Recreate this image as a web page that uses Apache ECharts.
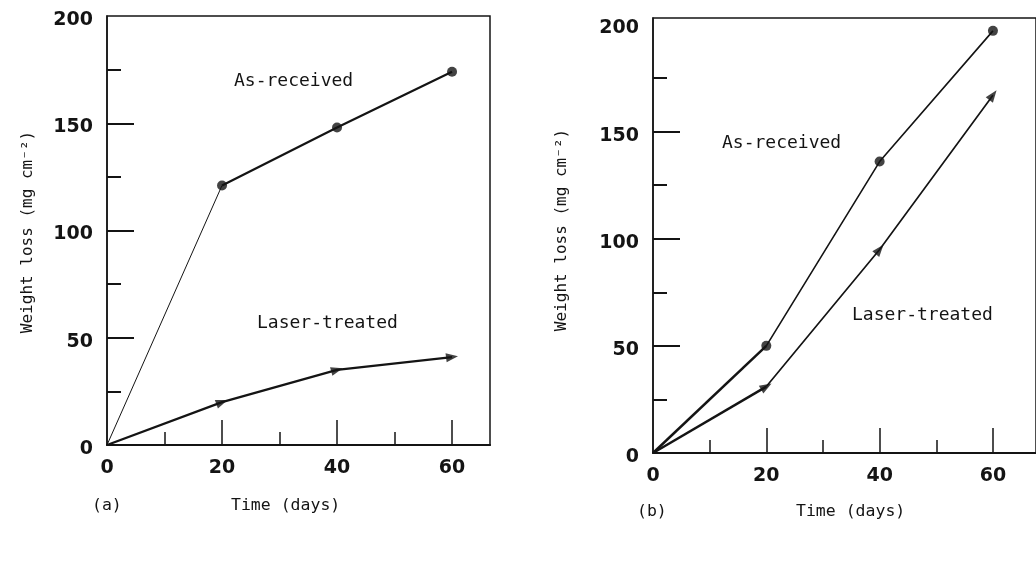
<!DOCTYPE html>
<html>
<head>
<meta charset="utf-8">
<script src="https://cdn.jsdelivr.net/npm/echarts@6/dist/echarts.min.js"></script>
<style>
html,body{margin:0;padding:0;background:#fff;}
#chart{width:1036px;height:562px;}
</style>
</head>
<body>
<div id="chart"></div>
<script>
// ---- data ----
const days = [0, 20, 40, 60];
const aAsReceived = [0, 121, 148, 174];
const aLaser = [0, 20, 35, 41];
const bAsReceived = [0, 50, 136, 197];
const bLaser = [0, 31, 95, 167];
const xLabelValues = [0, 20, 40, 60];
const xMajorTicks = [20, 40, 60];
const xMinorTicks = [10, 30, 50];
const yLabelValues = [0, 50, 100, 150, 200];
const yMajorTicks = [50, 100, 150];
const yMinorTicks = [25, 75, 125, 175];
const yName = 'Weight loss (mg cm\u207B\u00B2)';
const xName = 'Time (days)';

// ---- styles ----
const INK = '#141414';
const tickFont = {fontSize: 19, fontWeight: 'bold', fontFamily: 'DejaVu Sans', color: INK};
const textFont = 'DejaVu Sans Mono';

function pairs(xs, ys, from, to) {
  const out = [];
  for (let i = from; i <= to; i++) out.push([xs[i], ys[i]]);
  return out;
}

function xAxes(g, max) {
  return [
    {gridIndex: g, type: 'value', min: 0, max: max, position: 'bottom',
     axisLine: {lineStyle: {color: INK, width: 2.2}},
     axisTick: {inside: true, length: 25, customValues: xMajorTicks, lineStyle: {color: INK, width: 1.5}},
     axisLabel: Object.assign({customValues: xLabelValues, margin: 14}, tickFont),
     splitLine: {show: false}},
    {gridIndex: g, type: 'value', min: 0, max: max, position: 'bottom',
     axisLine: {show: false},
     axisTick: {inside: true, length: 13, customValues: xMinorTicks, lineStyle: {color: INK, width: 1.5}},
     axisLabel: {show: false}, splitLine: {show: false}}
  ];
}
function yAxes(g, max) {
  return [
    {gridIndex: g, type: 'value', min: 0, max: max, position: 'left',
     axisLine: {lineStyle: {color: INK, width: 1.5}},
     axisTick: {inside: true, length: 27, customValues: yMajorTicks, lineStyle: {color: INK, width: 2}},
     axisLabel: Object.assign({customValues: yLabelValues, margin: 14, verticalAlign: 'top', lineHeight: 8}, tickFont),
     splitLine: {show: false}},
    {gridIndex: g, type: 'value', min: 0, max: max, position: 'left',
     axisLine: {show: false},
     axisTick: {inside: true, length: 14, customValues: yMinorTicks, lineStyle: {color: INK, width: 2}},
     axisLabel: {show: false}, splitLine: {show: false}}
  ];
}

function lineSeg(xi, yi, data, width) {
  return {type: 'line', xAxisIndex: xi, yAxisIndex: yi, data: data, showSymbol: false,
          lineStyle: {color: INK, width: width}, silent: true, animation: false};
}
function markers(xi, yi, data, symbol, size, rotations) {
  return {type: 'scatter', xAxisIndex: xi, yAxisIndex: yi, animation: false, silent: true,
          data: data.map((p, i) => ({value: p, symbolRotate: rotations ? rotations[i] : 0})),
          symbol: symbol, symbolSize: size, itemStyle: {color: INK}};
}

const last = days.length - 1;
const series = [
  // panel (a)
  lineSeg(0, 0, pairs(days, aAsReceived, 0, 1), 1),
  lineSeg(0, 0, pairs(days, aAsReceived, 1, last), 2.2),
  lineSeg(0, 0, pairs(days, aLaser, 0, last), 2.2),
  markers(0, 0, pairs(days, aAsReceived, 1, last), 'circle', 10),
  markers(0, 0, pairs(days, aLaser, 1, last), 'triangle', [9, 12], [-70, -75, -83]),
  // panel (b)
  lineSeg(2, 2, pairs(days, bAsReceived, 0, 1), 2.5),
  lineSeg(2, 2, pairs(days, bAsReceived, 1, last), 1.6),
  lineSeg(2, 2, pairs(days, bLaser, 0, 1), 2.5),
  lineSeg(2, 2, pairs(days, bLaser, 1, last), 1.7),
  markers(2, 2, pairs(days, bAsReceived, 1, last), 'circle', 10),
  markers(2, 2, pairs(days, bLaser, 1, last), 'triangle', [9, 12], [-60, -40, -37])
];

function txt(x, y, s, size, extra) {
  return Object.assign({type: 'text', x: x, y: y, silent: true,
    style: {text: s, fontFamily: textFont, fontSize: size || 18, fill: INK,
            textAlign: 'left', textVerticalAlign: 'middle'}}, extra || {});
}
function vtxt(x, y, s) {
  return {type: 'text', x: x, y: y, rotation: Math.PI / 2, silent: true,
    style: {text: s, fontFamily: textFont, fontSize: 16, fill: INK,
            textAlign: 'center', textVerticalAlign: 'middle'}};
}

const option = {
  backgroundColor: '#fff',
  animation: false,
  grid: [
    {left: 107, top: 16, width: 383, height: 429, show: true, borderColor: INK, borderWidth: 1.5, containLabel: false},
    {left: 653, top: 18, width: 390, height: 435, show: true, borderColor: INK, borderWidth: 1.5, containLabel: false}
  ],
  xAxis: xAxes(0, 66.6).concat(xAxes(1, 67.6)),
  yAxis: yAxes(0, 200).concat(yAxes(1, 203)),
  series: series,
  graphic: [
    txt(234, 81, 'As-received'),
    txt(257, 323, 'Laser-treated'),
    txt(722, 143, 'As-received'),
    txt(852, 315, 'Laser-treated'),
    txt(92, 506, '(a)', 16.5),
    txt(231, 506, xName, 16.5),
    txt(637, 512, '(b)', 16.5),
    txt(796, 512, xName, 16.5),
    vtxt(28, 232, yName),
    vtxt(562, 230, yName)
  ]
};

const chart = echarts.init(document.getElementById('chart'), null, {renderer: 'canvas'});
chart.setOption(option);
</script>
</body>
</html>
